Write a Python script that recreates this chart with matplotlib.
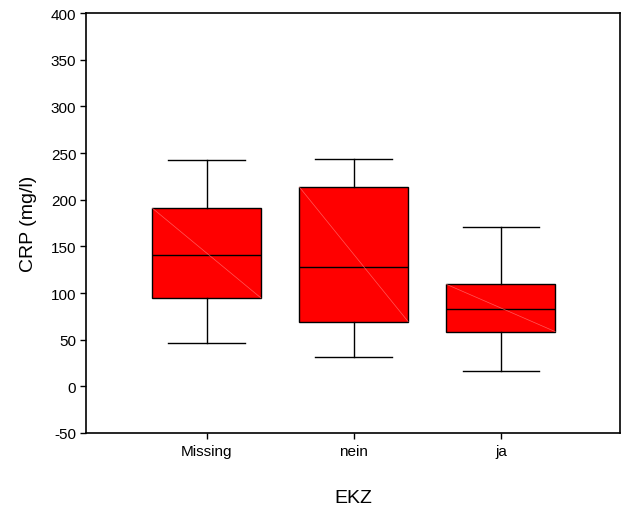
import matplotlib
matplotlib.use('Agg')
import matplotlib.pyplot as plt

plt.rcParams['font.family'] = ['Liberation Sans', 'DejaVu Sans']

# Gruppen und Kennwerte der Boxplots (CRP in mg/l)
groups = ['Missing', 'nein', 'ja']
whisker_low = [46.8, 31.8, 16.8]
q1 = [94.6, 69.3, 58.6]
medians = [140.4, 127.5, 82.5]
q3 = [191.0, 213.6, 109.3]
whisker_high = [242.5, 243.6, 170.7]

y_ticks = [-50, 0, 50, 100, 150, 200, 250, 300, 350, 400]

stats = []
for i, name in enumerate(groups):
    stats.append({
        'label': name,
        'whislo': whisker_low[i],
        'q1': q1[i],
        'med': medians[i],
        'q3': q3[i],
        'whishi': whisker_high[i],
        'fliers': [],
    })

fig = plt.figure(figsize=(6.25, 5.06), dpi=100)
ax = fig.add_axes([0.1376, 0.1423, 0.8544, 0.8300])

positions = [1, 2, 3]
box_w = 0.74
ax.bxp(stats, positions=positions, widths=box_w, patch_artist=True,
       showfliers=False,
       boxprops=dict(facecolor='#ff0000', edgecolor='black', linewidth=1.0),
       medianprops=dict(color='black', linewidth=1.0),
       whiskerprops=dict(color='black', linewidth=1.0),
       capprops=dict(color='black', linewidth=1.0),
       capwidths=0.52)

# feine Diagonale in jeder Box
for p, lo, hi in zip(positions, q1, q3):
    ax.plot([p - box_w / 2, p + box_w / 2], [hi, lo], color='#ff8080',
            linewidth=0.5, alpha=0.7, zorder=3)

ax.set_xlim(0.18, 3.81)
ax.set_ylim(-50, 400)
ax.set_yticks(y_ticks)
ax.set_yticklabels([str(t) for t in y_ticks])
ax.set_xticks(positions)
ax.set_xticklabels(groups)

ax.tick_params(axis='both', direction='out', length=4, width=1.0,
               labelsize=11, color='black')
ax.tick_params(axis='y', pad=3)
ax.tick_params(axis='x', pad=4)
for s in ax.spines.values():
    s.set_linewidth(1.2)
    s.set_color('black')

ax.set_ylabel('CRP (mg/l)', fontsize=14, labelpad=10)
ax.set_xlabel('EKZ', fontsize=14, labelpad=22)

fig.savefig('out.png', dpi=100)
